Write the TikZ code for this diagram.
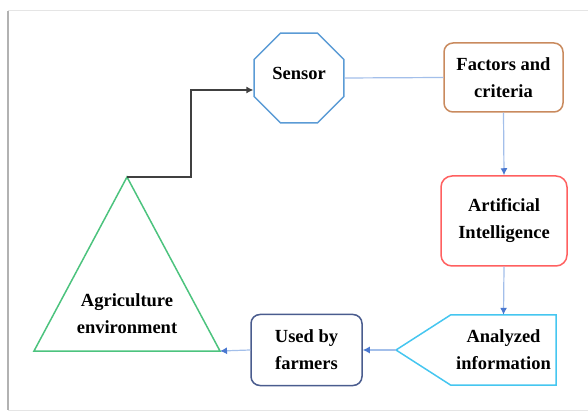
\documentclass[tikz,border=0pt]{standalone}
\usepackage{fontspec}
\setmainfont{Liberation Serif}
\usetikzlibrary{shapes.geometric,arrows.meta}

\definecolor{sensorblue}{HTML}{5B9BD5}
\definecolor{factorbrown}{HTML}{C98A5E}
\definecolor{aired}{HTML}{FF6060}
\definecolor{infocyan}{HTML}{45C6F0}
\definecolor{usednavy}{HTML}{4A5C8E}
\definecolor{agrigreen}{HTML}{4CC37E}
\definecolor{linkblue}{HTML}{A3BFEA}
\definecolor{headblue}{HTML}{4A78D0}

\tikzset{
  box/.style={draw, line width=1.5pt, rounded corners=9pt, align=center, inner sep=0pt},
  link/.style={draw=linkblue, line width=1.2pt, -{Latex[length=7pt,width=7pt,color=headblue]}},
}

\begin{document}
\begin{tikzpicture}[x=1pt,y=1pt,font=\fontsize{18.5}{27}\selectfont\bfseries]
      \useasboundingbox (0,0) rectangle (588,412);
      % frame
      \draw[black!10, line width=1pt] (8,401) -- (588,401);
      \draw[black!10, line width=1pt] (8,2) -- (588,2);
      \draw[black!30, line width=2.5pt] (8,401) -- (8,2);

      \node[draw=sensorblue, line width=1.5pt, regular polygon, regular polygon sides=8,
        minimum size=97pt, inner sep=0pt] (Sensor) at (299,334) {\raisebox{10pt}{Sensor}};
      \node[box, draw=factorbrown, minimum width=119pt, minimum height=69pt]
        (Factors) at (503.5,334.5) {Factors and\\criteria};
      \node[box, draw=aired, minimum width=126pt, minimum height=90pt, rounded corners=11pt]
        (AI) at (504,191) {Artificial\\Intelligence};
      \node[align=center, inner sep=0pt, minimum width=105pt, minimum height=70pt]
        (Info) at (503.5,62) {Analyzed\\information};
      \coordinate (tip) at (396,62);
      \node[box, draw=usednavy, minimum width=111pt, minimum height=71pt]
        (Used) at (306.5,62) {Used by\\farmers};

      % agriculture triangle
      \coordinate (apex) at (127,235);
      \coordinate (baseL) at (34,61);
      \coordinate (baseR) at (220,61);
      \draw[agrigreen, line width=1.5pt] (apex) -- (baseL) -- (baseR) -- cycle;
      \node[align=center, inner sep=0pt] (Agri) at (127,98.5) {Agriculture\\environment};

      \draw[infocyan, line width=1.5pt] (Info.north west) -- (Info.north east)
        -- (Info.south east) -- (Info.south west) -- (tip) -- cycle;

      \coordinate (bend) at (191,322);
      \begin{scope}[link]
        \draw[-] (Sensor.east) -- (Factors.west);
        \draw (Factors.south) -- (AI.north);
        \draw (AI.south) -- (Info.north);
        \draw (tip) -- (Used.east);
        \draw (Used.west) -- (baseR);
      \end{scope}
      \draw[black!75, line width=1.5pt, -{Latex[length=7pt,width=7pt]}]
        (apex) -| (bend) -- (Sensor.west |- bend);
    \end{tikzpicture}
\end{document}
